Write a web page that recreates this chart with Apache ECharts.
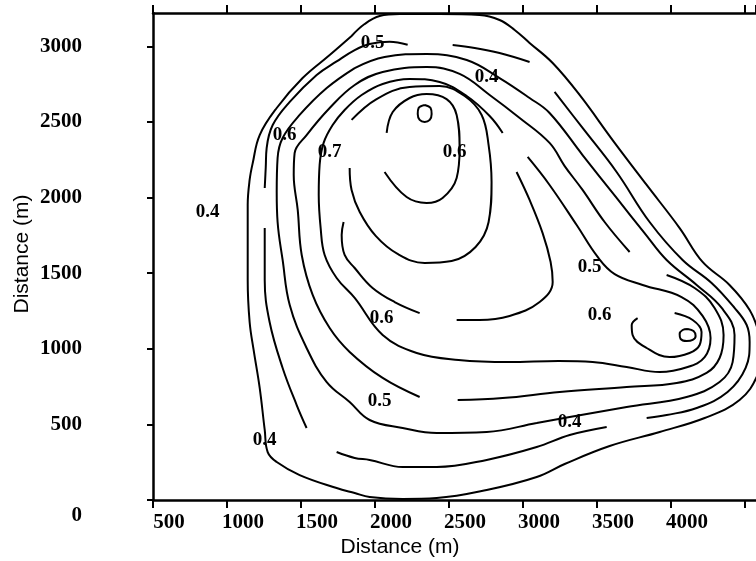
<!DOCTYPE html>
<html style="height: 100%">
<head>
<meta charset="utf-8">
<script src="https://cdn.jsdelivr.net/npm/echarts@6/dist/echarts.min.js"></script>
</head>
<body style="height: 100%; margin: 0; background: #fff">
<div id="container" style="width: 756px; height: 561px;"></div>
<script type="text/javascript">
// contour strokes, [distance x (m), distance y (m)]
var outer04 = [[1842,3068],[1930,3147],[2032,3200],[2167,3213],[2437,3213],[2707,3207],[2842,3174],[2944,3108],[3045,3022],[3201,2889],[3383,2678],[3606,2380],[3836,2083],[4059,1798],[4214,1574],[4396,1422],[4532,1256],[4599,1091],[4613,992],[4586,827],[4464,661],[4228,542],[3924,450],[3586,357],[3282,238],[3093,152],[2755,66],[2417,13],[2187,7],[1964,20],[1863,46],[1741,79],[1491,165],[1336,251],[1275,317],[1255,463],[1221,741],[1180,992],[1153,1177],[1140,1455],[1140,1719],[1140,1951],[1153,2116],[1174,2228],[1221,2413],[1336,2592],[1511,2790],[1694,2942],[1842,3068]];

var ring2Left = [[1255,2063],[1262,2200],[1268,2327],[1309,2479],[1424,2632],[1606,2810],[1741,2900],[1863,2975],[1964,3015],[2099,3030],[2221,3010]];
var ring2Top = [[2525,3008],[2674,2989],[2842,2955],[3045,2896]];
var ring2Right = [[3214,2698],[3403,2460],[3633,2169],[3856,1838],[4079,1587],[4275,1435],[4430,1270],[4512,1157],[4532,1045],[4505,873],[4383,714],[4174,608],[3971,562],[3836,542]];
var ring2Bottom = [[3566,483],[3316,430],[3093,350],[2755,265],[2417,218],[2187,218],[1964,265],[1863,278],[1741,317]];
var ring2Lower = [[1538,476],[1471,628],[1376,873],[1288,1177],[1255,1455],[1255,1798]];

var ring3 = [[1863,2856],[2065,2929],[2349,2949],[2620,2909],[2842,2790],[3045,2658],[3180,2559],[3403,2281],[3633,1997],[3822,1765],[3971,1587],[4174,1422],[4343,1270],[4430,1091],[4417,912],[4329,780],[4106,681],[3701,615],[3316,549],[3093,509],[2755,450],[2417,443],[2187,476],[1964,529],[1829,648],[1674,780],[1538,1005],[1424,1289],[1376,1587],[1342,1838],[1336,2036],[1342,2261],[1376,2394],[1491,2546],[1674,2724],[1863,2856]];

var ring4Bottom = [[2559,661],[2863,674],[3248,714],[3701,747],[4039,774],[4241,840],[4329,939],[4356,1091],[4295,1270],[4160,1402],[3971,1488]];
var ring4Main = [[3721,1640],[3552,1838],[3403,2050],[3282,2208],[3180,2361],[2978,2526],[2775,2678],[2572,2817],[2349,2863],[2052,2830],[1863,2744],[1694,2592],[1538,2413],[1457,2294],[1451,2149],[1478,1918],[1505,1620],[1579,1356],[1694,1137],[1829,979],[2052,807],[2302,681]];

var ring5 = [[2863,2427],[2775,2539],[2620,2671],[2437,2764],[2234,2784],[2052,2751],[1910,2678],[1795,2579],[1714,2479],[1653,2361],[1626,2215],[1620,2017],[1633,1798],[1660,1620],[1741,1468],[1863,1336],[2052,1091],[2282,972],[2565,926],[2903,912],[3241,919],[3471,912],[3701,879],[3924,846],[4113,879],[4228,945],[4268,1071],[4214,1217],[4072,1342],[3809,1422],[3620,1494],[3505,1607],[3363,1818],[3180,2083],[3032,2268]];

var ring6Right = [[2957,2169],[3045,1984],[3133,1765],[3187,1574],[3201,1441],[3113,1309],[2910,1217],[2707,1190],[2552,1190]];
var ring6Left = [[2302,1236],[2133,1309],[1984,1402],[1863,1534],[1795,1620],[1775,1752],[1788,1838]];

var peakLoop = [[1842,2513],[2011,2651],[2234,2731],[2437,2737],[2606,2671],[2721,2546],[2768,2347],[2788,2103],[2768,1838],[2680,1673],[2518,1580],[2336,1567],[2153,1627],[2005,1746],[1897,1904],[1842,2050],[1829,2195]];
var peakHorseshoe = [[2079,2427],[2120,2565],[2234,2658],[2349,2684],[2484,2651],[2552,2546],[2572,2327],[2552,2129],[2457,1997],[2349,1964],[2214,2003],[2065,2169]];
var peakCore = [[2336,2612],[2376,2592],[2383,2552],[2370,2513],[2336,2499],[2302,2513],[2289,2552],[2295,2592],[2336,2612]];

var lobeHook = [[4025,1236],[4147,1190],[4207,1111],[4194,1025],[4126,972],[3991,945],[3836,1005],[3741,1091],[3735,1157],[3775,1203]];
var lobeCore = [[4113,1131],[4153,1117],[4167,1084],[4147,1058],[4106,1051],[4065,1065],[4059,1098],[4079,1124],[4113,1131]];

// contour level labels
var levelText = ['0.5','0.4','0.6','0.7','0.6','0.4','0.5','0.6','0.6','0.5','0.4','0.4'];
var levelX = [1984,2755,1390,1694,2538,869,3451,3518,2045,2032,3316,1255];
var levelY = [3022,2797,2413,2301,2301,1904,1541,1223,1203,655,516,397];

var strokes = [outer04, ring2Left, ring2Top, ring2Right, ring2Bottom, ring2Lower, ring3,
  ring4Bottom, ring4Main, ring5, ring6Right, ring6Left, peakLoop, peakHorseshoe, peakCore,
  lobeHook, lobeCore];

var myChart = echarts.init(document.getElementById('container'));

var series = strokes.map(function (d) {
  return {
    type: 'line',
    data: d,
    smooth: 0.4,
    showSymbol: false,
    symbol: 'none',
    lineStyle: { color: '#000', width: 2 },
    silent: true
  };
});

series.push({
  type: 'scatter',
  symbolSize: 0,
  z: 5,
  itemStyle: { opacity: 1 },
  data: levelText.map(function (t, i) {
    return { name: t, value: [levelX[i], levelY[i]] };
  }),
  label: {
    show: true,
    position: 'inside',
    formatter: '{b}',
    color: '#000',
    opacity: 1,
    fontFamily: 'Liberation Serif',
    fontWeight: 'bold',
    fontSize: 19
  }
});

var serifLabel = {
  color: '#000',
  fontFamily: 'Liberation Serif',
  fontWeight: 'bold',
  fontSize: 21
};

option = {
  animation: false,
  backgroundColor: '#fff',
  grid: { left: 153, top: 13, right: 0, bottom: 61 },
  xAxis: [{
    type: 'value', min: 500, max: 4575, interval: 500,
    axisLine: { lineStyle: { color: '#000', width: 2.5 } },
    axisTick: { length: 8, lineStyle: { color: '#000', width: 2 } },
    axisLabel: Object.assign({
      margin: 12, padding: [0, 0, 0, 32], showMaxLabel: false,
      formatter: function (v) { return v >= 4500 ? '' : String(v); }
    }, serifLabel),
    splitLine: { show: false }
  }, {
    type: 'value', position: 'top', min: 500, max: 4575, interval: 500,
    axisLine: { lineStyle: { color: '#000', width: 2.5 } },
    axisTick: { length: 8, lineStyle: { color: '#000', width: 2 } },
    axisLabel: { show: false },
    splitLine: { show: false }
  }],
  yAxis: {
    type: 'value', min: 0, max: 3220, interval: 500,
    axisLine: { show: true, lineStyle: { color: '#000', width: 2.5 } },
    axisTick: { show: true, length: 6, lineStyle: { color: '#000', width: 2 } },
    axisLabel: Object.assign({
      margin: 71, showMaxLabel: false,
      formatter: function (v) { return v === 0 ? '{z|0}' : String(v); },
      rich: { z: Object.assign({ padding: [32, 0, 0, 0] }, serifLabel) }
    }, serifLabel),
    splitLine: { show: false }
  },
  graphic: [{
    type: 'text', x: 400, y: 547,
    style: { text: 'Distance (m)', fill: '#000', font: '21px "Liberation Sans"', textAlign: 'center', textVerticalAlign: 'middle' }
  }, {
    type: 'text', x: 22, y: 254, rotation: Math.PI / 2,
    style: { text: 'Distance (m)', fill: '#000', font: '21px "Liberation Sans"', textAlign: 'center', textVerticalAlign: 'middle' }
  }],
  series: series
};

if (option && typeof option === "object") {
  myChart.setOption(option, true);
}
</script>
</body>
</html>
